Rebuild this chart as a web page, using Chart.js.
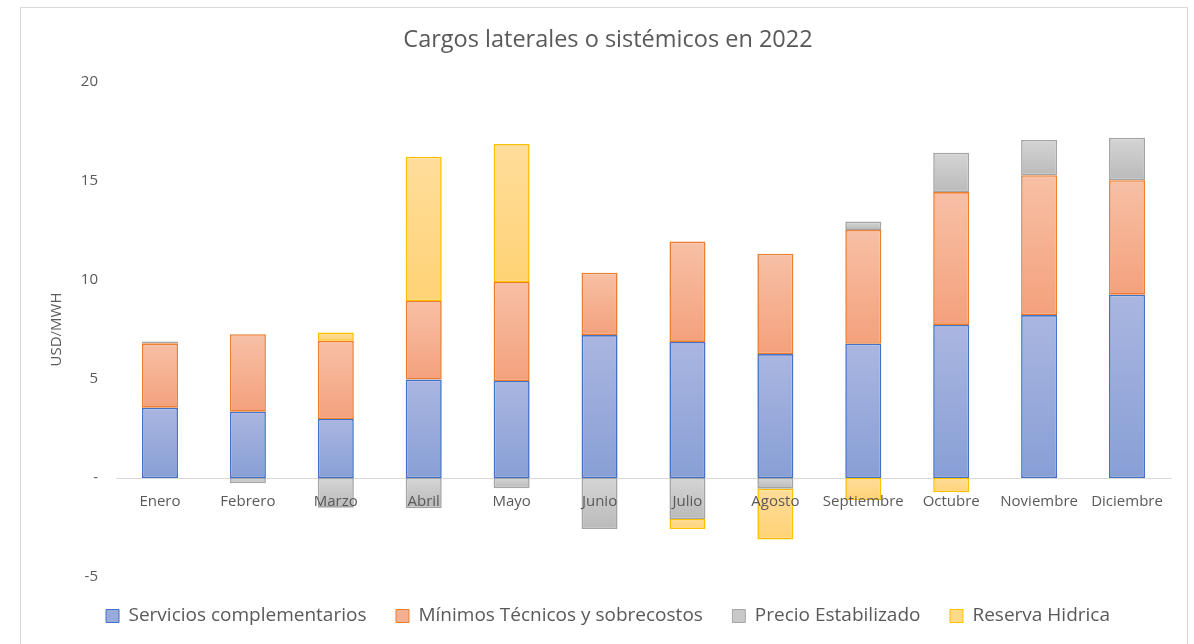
<!DOCTYPE html>
<html>
<head>
<meta charset="utf-8">
<script src="https://cdn.jsdelivr.net/npm/chart.js@4"></script>
<style>
  html, body { margin: 0; padding: 0; background: #ffffff; }
  #wrap { position: relative; width: 1194px; height: 644px; overflow: hidden; }
  #frame { position: absolute; left: 20px; top: 7px; width: 1168px; height: 700px; border: 1px solid #d9d9d9; box-sizing: border-box; pointer-events: none; }
  canvas { position: absolute; left: 0; top: 0; }
</style>
</head>
<body>
<div id="wrap">
  <canvas id="c" width="1194" height="644"></canvas>
  <div id="frame"></div>
</div>
<script>
const categories = ['Enero','Febrero','Marzo','Abril','Mayo','Junio','Julio','Agosto','Septiembre','Octubre','Noviembre','Diciembre'];
const serviciosComplementarios = [3.55, 3.35, 2.98, 4.97, 4.90, 7.22, 6.87, 6.26, 6.78, 7.73, 8.23, 9.26];
const minimosTecnicos = [3.25, 3.91, 3.95, 3.97, 5.00, 3.15, 5.07, 5.07, 5.75, 6.71, 7.06, 5.78];
const precioEstabilizado = [0.10, -0.27, -1.50, -1.53, -0.52, -2.58, -2.07, -0.54, 0.42, 1.99, 1.78, 2.15];
const reservaHidrica = [0, 0, 0.42, 7.29, 6.97, 0, -0.51, -2.56, -1.11, -0.72, 0, 0];
const yTicks = [-5, 0, 5, 10, 15, 20];

const seriesNames = ['Servicios complementarios', 'Mínimos Técnicos y sobrecostos', 'Precio Estabilizado', 'Reserva Hidrica'];
const seriesData = [serviciosComplementarios, minimosTecnicos, precioEstabilizado, reservaHidrica];
const gradTop = ['#aab6e0', '#f7c0a6', '#d5d5d5', '#ffdd9b'];
const gradBottom = ['#889fd6', '#f4a17c', '#bababa', '#ffd275'];
const borders = ['#4472c4', '#ed7d31', '#a5a5a5', '#ffc000'];
const legendFill = ['#98abdb', '#f5b092', '#c8c8c8', '#ffd98a'];

const FONT = "'Open Sans', 'DejaVu Sans', sans-serif";
const TXT = '#595959';

function segmentBounds(di, i) {
  const v = seriesData[di][i];
  let start = 0;
  for (let k = 0; k < di; k++) {
    const w = seriesData[k][i];
    if ((v >= 0 && w > 0) || (v < 0 && w < 0)) start += w;
  }
  return [start, start + v];
}

function makeFill(di) {
  return function(ctx) {
    const chart = ctx.chart;
    const y = chart.scales && chart.scales.y;
    if (!chart.chartArea || !y || ctx.type !== 'data') return legendFill[di];
    const [a, b] = segmentBounds(di, ctx.dataIndex);
    let p1 = y.getPixelForValue(Math.max(a, b));
    let p2 = y.getPixelForValue(Math.min(a, b));
    if (!isFinite(p1) || !isFinite(p2) || Math.abs(p2 - p1) < 0.5) return legendFill[di];
    const g = chart.ctx.createLinearGradient(0, p1, 0, p2);
    g.addColorStop(0, gradTop[di]);
    g.addColorStop(1, gradBottom[di]);
    return g;
  };
}

const datasets = seriesNames.map((name, di) => ({
  label: name,
  data: seriesData[di],
  backgroundColor: makeFill(di),
  borderColor: borders[di],
  borderWidth: 1.6,
  borderSkipped: false,
  barPercentage: 0.41,
  categoryPercentage: 1.0
}));

new Chart(document.getElementById('c'), {
  type: 'bar',
  data: { labels: categories, datasets: datasets },
  options: {
    responsive: false,
    animation: false,
    devicePixelRatio: 1,
    layout: { padding: { left: 45, right: 23, top: 0, bottom: 8.5 } },
    plugins: {
      title: {
        display: true,
        text: 'Cargos laterales o sistémicos en 2022',
        color: TXT,
        font: { family: FONT, size: 23.5, weight: 'normal' },
        padding: { top: 26, bottom: 27.8 }
      },
      legend: {
        display: true,
        position: 'bottom',
        labels: {
          color: TXT,
          font: { family: FONT, size: 19 },
          boxWidth: 13,
          boxHeight: 13,
          padding: 29.5,
          generateLabels: function(chart) {
            return seriesNames.map((n, di) => ({
              text: n,
              fillStyle: legendFill[di],
              strokeStyle: borders[di],
              lineWidth: 1,
              hidden: false,
              datasetIndex: di,
              fontColor: TXT
            }));
          }
        }
      },
      tooltip: { enabled: false }
    },
    scales: {
      x: {
        stacked: true,
        position: { y: 0 },
        offset: true,
        afterFit: function(s) { s.height = 0; },
        grid: { display: false, drawTicks: false },
        border: { display: true, color: '#d9d9d9', width: 1 },
        ticks: { color: TXT, font: { family: FONT, size: 15 }, padding: 15, z: 1, maxRotation: 0, autoSkip: false }
      },
      y: {
        stacked: true,
        min: -5,
        max: 20,
        afterFit: function(s) { s.width = 71; },
        afterBuildTicks: function(s) { s.ticks = yTicks.map(v => ({ value: v })); },
        grid: { display: false, drawTicks: false },
        border: { display: false },
        ticks: {
          color: TXT,
          font: { family: FONT, size: 15 },
          padding: 18,
          callback: function(v) { return v === 0 ? '-' : String(v); }
        },
        title: {
          display: true,
          text: 'USD/MWH',
          color: TXT,
          font: { family: FONT, size: 15 },
          padding: { top: 3, bottom: 0 }
        }
      }
    }
  }
});
</script>
</body>
</html>
